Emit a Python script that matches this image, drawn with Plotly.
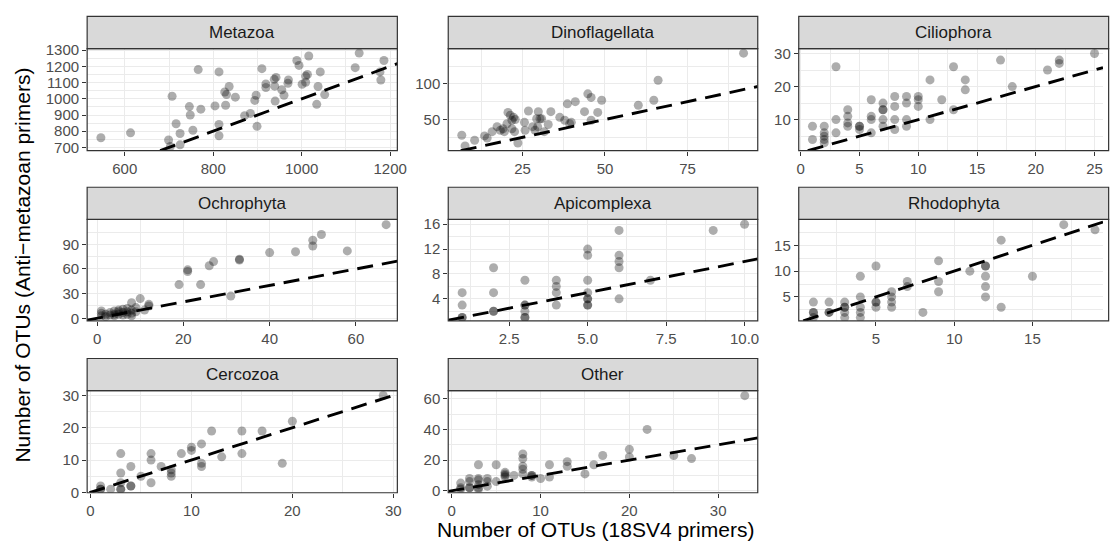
import plotly.graph_objects as go

# ---------------- data (x = 18SV4 OTUs, y = anti-metazoan OTUs) ----------------
panels = ["Metazoa", "Dinoflagellata", "Ciliophora", "Ochrophyta",
          "Apicomplexa", "Rhodophyta", "Cercozoa", "Other"]

metazoa_x = [546, 613, 766, 813, 707, 746, 748, 772, 716, 725, 754, 699, 703, 725, 804, 813, 813,
             836, 826, 830, 828, 850, 871, 884, 899, 897, 894, 910, 919, 919, 942, 938, 939, 940,
             955, 960, 970, 969, 989, 994, 1016, 1009, 1013, 1001, 1009, 1042, 1037, 1052, 1034,
             1121, 1130, 1177, 1186, 1179]
metazoa_y = [760, 790, 1180, 1166, 1016, 952, 900, 936, 846, 786, 806, 746, 706, 716, 956, 842, 772,
             1076, 1042, 1026, 960, 1010, 896, 910, 830, 1022, 990, 1186, 1092, 1070, 1132, 1120, 1078, 986,
             1056, 1022, 1116, 1096, 1236, 1206, 1264, 1140, 1150, 1090, 1102, 1166, 1076, 1026, 966,
             1192, 1282, 1166, 1236, 1116]

dino_x = [6.6, 7.6, 10.5, 13.5, 14.3, 15.8, 17.3, 18.3, 19.1, 19.5, 20.3, 20.6, 21.3, 21.8, 22.3, 22.6,
          21.8, 22.8, 23.6, 25.6, 25.8, 26.8, 28.1, 28.8, 29.3, 29.8, 29.6, 30.3, 30.8, 31.6, 32.8, 33.6,
          36.3, 37.8, 38.6, 39.3, 39.8, 41.0, 43.8, 44.8, 45.8, 45.8, 47.8, 49.0, 60.1, 64.8, 66.1, 92.0]
dino_y = [28, 13, 21, 27, 24, 33, 40, 35, 37, 33, 44, 60, 56, 49, 53, 33,
          37, 50, 17, 46, 35, 62, 40, 35, 51, 61, 40, 51, 51, 33, 43, 61,
          53, 49, 72, 44, 46, 75, 61, 86, 81, 49, 60, 77, 70, 77, 105, 143]

cilio_x = [1, 1, 2, 2, 2, 2, 2, 3, 3, 3, 4, 4, 4, 4, 5, 5, 5, 6, 6, 6, 6, 7, 7, 7, 7, 7,
           8, 8, 8, 8, 9, 9, 9, 9, 10, 10, 10, 11, 11, 12, 13, 13, 14, 14, 17, 18, 21, 22, 22, 25]
cilio_y = [8, 4, 8, 6, 5, 4, 3, 26, 10, 6, 13, 11, 9, 8, 8, 8, 7, 16, 11, 10, 6, 15, 13, 13, 10, 8,
           17, 14, 10, 7, 17, 15, 10, 8, 17, 16, 14, 22, 10, 16, 26, 13, 22, 19, 28, 20, 25, 28, 27, 30]

ochro_x = [1, 1, 1, 2, 2, 3, 3, 4, 4, 4, 5, 5, 5, 6, 6, 6, 7, 7, 7, 8, 8, 8, 8, 9, 9, 10, 11, 12, 12,
           19, 21, 21, 24, 26, 27, 31, 33, 33, 40, 46, 50, 50, 52, 58, 67]
ochro_y = [9, 6, 3, 2, 5, 4, 7, 9, 5, 3, 8, 5, 10, 11, 7, 4, 8, 12, 5, 19, 6, 3, 10, 8, 13, 24, 10, 17, 15,
           41, 59, 57, 41, 64, 69, 27, 71, 72, 80, 81, 95, 88, 102, 82, 114]

api_x = [1, 1, 1, 1, 2, 2, 2, 2, 3, 3, 3, 3, 3, 3, 4, 4, 4, 4, 5, 5, 5, 5, 5, 5, 5, 5,
         6, 6, 6, 6, 6, 7, 9, 10]
api_y = [5, 3, 1, 1, 9, 5, 2, 2, 7, 3, 3, 2, 1, 1, 7, 6, 5, 3, 12, 11, 7, 5, 4, 4, 3, 3,
         15, 11, 10, 9, 4, 7, 15, 16]

rhodo_x = [1, 1, 1, 1, 2, 2, 2, 3, 3, 3, 3, 3, 4, 4, 4, 4, 4, 5, 5, 5, 5, 6, 6, 6, 6, 7, 7, 8,
           9, 9, 9, 11, 12, 12, 12, 12, 12, 13, 13, 15, 17, 19]
rhodo_y = [4, 2, 2, 1, 4, 2, 2, 4, 3, 3, 2, 1, 9, 5, 3, 2, 1, 11, 4, 4, 3, 6, 5, 4, 3, 8, 7, 2,
           12, 8, 6, 10, 11, 11, 9, 7, 5, 16, 3, 9, 19, 18]

cerco_x = [1, 1, 1, 2, 3, 3, 3, 3, 3, 4, 4, 4, 5, 6, 6, 6, 7, 8, 8, 8, 9, 10, 10, 11, 11, 11,
           12, 13, 15, 15, 17, 19, 20, 29]
cerco_y = [2, 1, 1, 1, 12, 6, 3, 1, 1, 8, 2, 2, 5, 12, 10, 3, 8, 7, 6, 5, 12, 14, 13, 15, 9, 8,
           19, 11, 19, 12, 19, 9, 22, 30]

other_x = [1, 1, 1, 2, 2, 2, 2, 3, 3, 3, 3, 3, 3, 4, 4, 4, 5, 5, 6, 6, 6, 6, 7, 8, 8, 8, 8, 8,
           9, 9, 9, 10, 11, 11, 13, 13, 15, 16, 17, 20, 20, 22, 25, 27, 33]
other_y = [5, 2, 1, 8, 6, 2, 2, 17, 8, 7, 4, 2, 1, 8, 6, 3, 17, 6, 12, 11, 10, 9, 10, 24, 21, 16, 14, 11,
           10, 10, 9, 8, 17, 9, 19, 16, 11, 17, 23, 27, 22, 40, 23, 21, 62]

series_x = [metazoa_x, dino_x, cilio_x, ochro_x, api_x, rhodo_x, cerco_x, other_x]
series_y = [metazoa_y, dino_y, cilio_y, ochro_y, api_y, rhodo_y, cerco_y, other_y]

# reference line: y = x
abline_slope = 1.0
abline_intercept = 0.0

# tick breaks
x_ticks = [[600, 800, 1000, 1200], [25, 50, 75], [0, 5, 10, 15, 20, 25], [0, 20, 40, 60],
           [2.5, 5.0, 7.5, 10.0], [5, 10, 15], [0, 10, 20, 30], [0, 10, 20, 30]]
x_ticktext = [["600", "800", "1000", "1200"], ["25", "50", "75"], ["0", "5", "10", "15", "20", "25"],
              ["0", "20", "40", "60"], ["2.5", "5.0", "7.5", "10.0"], ["5", "10", "15"],
              ["0", "10", "20", "30"], ["0", "10", "20", "30"]]
y_ticks = [[700, 800, 900, 1000, 1100, 1200, 1300], [50, 100], [10, 20, 30], [0, 30, 60, 90],
           [4, 8, 12, 16], [5, 10, 15], [0, 10, 20, 30], [0, 20, 40, 60]]

# ---------------- layout geometry (pixels) ----------------
W, H = 1112, 552
col_px = [(86.0, 399.3), (450.7, 763.3), (804.7, 1117.7)]   # third column is cropped at 1112
row_px = [(42.7, 147.7), (218.3, 322.7), (394.3, 499.3)]
strip_h = 33.0

# full panel ranges (left/right edges, bottom/top edges)
x_range = [(514.9, 1216.3), (2.5, 96.3), (-0.17, 26.2), (-2.3, 69.6),
           (0.556, 10.42), (0.063, 19.87), (-0.33, 30.4), (-0.4, 34.46)]
y_range = [(680, 1310), (6.3, 149.5), (0.6, 31.5), (-3.2, 120.4),
           (0.45, 16.78), (0.35, 20.03), (-0.1, 31.5), (-1.27, 65.3)]

GRID = "#EBEBEB"
DARK = "#333333"
FONT = "Liberation Sans, Arial, Helvetica, sans-serif"


def minor_vals(ticks, lo, hi):
    step = ticks[1] - ticks[0]
    vals = []
    t = ticks[0] - step / 2
    while t < hi:
        if t > lo:
            vals.append(t)
        t += step
    return vals


fig = go.Figure()
shapes = []
annotations = []

for i, name in enumerate(panels):
    r, c = divmod(i, 3)
    x0p, x1p = col_px[c]
    y0p, y1p = row_px[r]
    xlo, xhi = x_range[i]
    ylo, yhi = y_range[i]
    # crop at figure edge
    if x1p > W:
        xhi = xlo + (W - x0p) / (x1p - x0p) * (xhi - xlo)
        dom_x = [x0p / W, 1.0]
    else:
        dom_x = [x0p / W, x1p / W]
    dom_y = [1 - y1p / H, 1 - y0p / H]
    k = "" if i == 0 else str(i + 1)

    fig.add_trace(go.Scatter(
        x=series_x[i], y=series_y[i], mode="markers",
        marker=dict(size=9, color="rgba(0,0,0,0.32)", line=dict(width=0)),
        xaxis="x" + k, yaxis="y" + k, showlegend=False, hoverinfo="x+y"))

    # y = x line, clipped to the visible panel box
    a = max(xlo, (ylo - abline_intercept) / abline_slope)
    b = min(xhi, (yhi - abline_intercept) / abline_slope)
    fig.add_trace(go.Scatter(
        x=[a, b], y=[abline_intercept + abline_slope * a, abline_intercept + abline_slope * b],
        mode="lines", line=dict(color="black", width=2.9, dash="16px,9px"),
        xaxis="x" + k, yaxis="y" + k, showlegend=False, hoverinfo="skip"))

    common = dict(showgrid=True, gridcolor=GRID, gridwidth=1.4, zeroline=False, showline=False,
                  ticks="outside", ticklen=4, tickwidth=1.1, tickcolor=DARK,
                  tickfont=dict(family=FONT, size=15, color="#4D4D4D"))
    fig.layout["xaxis" + k] = dict(
        domain=dom_x, range=[xlo, xhi], anchor="y" + k,
        tickmode="array", tickvals=x_ticks[i], ticktext=x_ticktext[i],
        minor=dict(tickmode="array", tickvals=minor_vals(x_ticks[i], xlo, xhi),
                   showgrid=True, gridcolor=GRID, gridwidth=0.7, ticks=""),
        **common)
    fig.layout["yaxis" + k] = dict(
        domain=dom_y, range=[ylo, yhi], anchor="x" + k,
        tickmode="array", tickvals=y_ticks[i],
        minor=dict(tickmode="array", tickvals=minor_vals(y_ticks[i], ylo, yhi),
                   showgrid=True, gridcolor=GRID, gridwidth=0.7, ticks=""),
        **common)

    # panel border
    shapes.append(dict(type="rect", xref="paper", yref="paper", layer="above",
                       x0=x0p / W, x1=x1p / W, y0=1 - y1p / H, y1=1 - y0p / H,
                       line=dict(color=DARK, width=1.2), fillcolor="rgba(0,0,0,0)"))
    # strip
    shapes.append(dict(type="rect", xref="paper", yref="paper", layer="above",
                       x0=x0p / W, x1=x1p / W, y0=1 - y0p / H, y1=1 - (y0p - strip_h) / H,
                       line=dict(color=DARK, width=1.2), fillcolor="#D9D9D9"))
    annotations.append(dict(text=name, xref="paper", yref="paper", showarrow=False,
                            x=(x0p + x1p) / 2 / W, y=1 - (y0p - strip_h / 2) / H,
                            xanchor="center", yanchor="middle",
                            font=dict(family=FONT, size=17, color="#1A1A1A")))

annotations.append(dict(text="Number of OTUs (18SV4 primers)", xref="paper", yref="paper",
                        showarrow=False, x=599 / W, y=1 - 537 / H, xanchor="center", yanchor="middle",
                        font=dict(family=FONT, size=21, color="black")))
annotations.append(dict(text="Number of OTUs (Anti\u2212metazoan primers)", xref="paper", yref="paper",
                        showarrow=False, x=21 / W, y=1 - 265 / H, xanchor="center", yanchor="middle",
                        textangle=-90, font=dict(family=FONT, size=21, color="black")))

fig.update_layout(width=W, height=H, margin=dict(l=0, r=0, t=0, b=0),
                  paper_bgcolor="white", plot_bgcolor="white",
                  shapes=shapes, annotations=annotations, showlegend=False)

fig.write_html("out.html", config={"displayModeBar": False})
